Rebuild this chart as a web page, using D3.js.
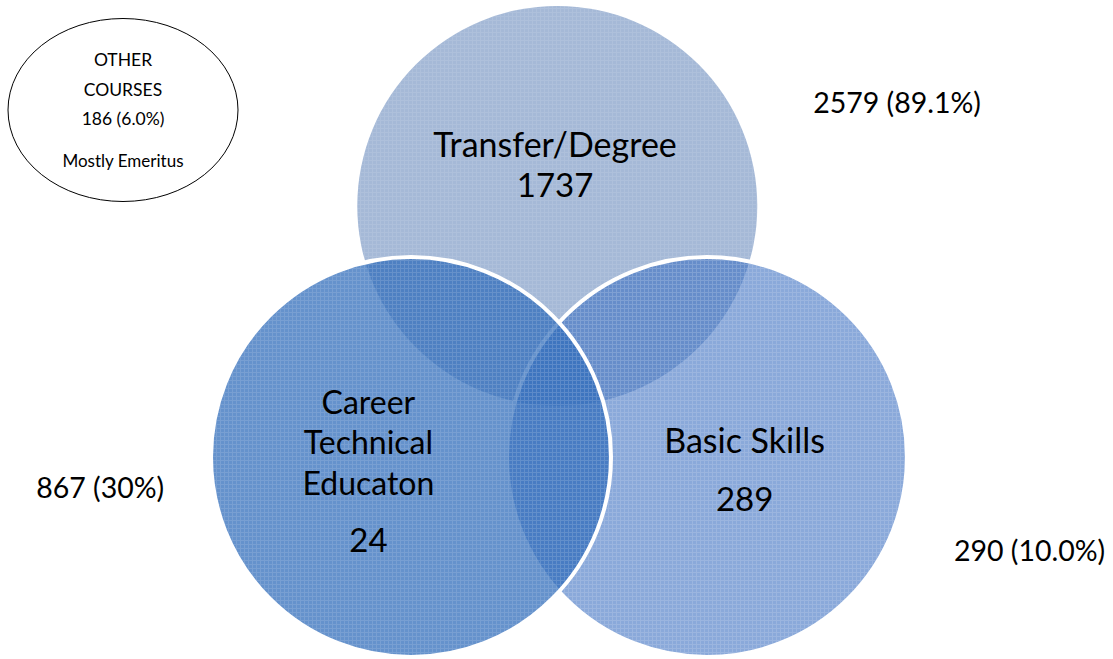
<!DOCTYPE html>
<html>
<head>
<meta charset="utf-8">
<script src="https://cdn.jsdelivr.net/npm/d3@7"></script>
<style>
  body { margin: 0; background: #fff; }
  svg { display: block; font-family: Lato, "Open Sans", sans-serif; }
</style>
</head>
<body>
<svg id="venn" width="1113" height="659"></svg>
<script>
// data
const setNames   = ['Transfer/Degree', 'Basic Skills', 'Career Technical Educaton'];
const setLines   = [['Transfer/Degree'], ['Basic Skills'], ['Career', 'Technical', 'Educaton']];
const setCounts  = [1737, 289, 24];
const totals     = ['2579 (89.1%)', '290 (10.0%)', '867 (30%)'];
const otherLines = ['OTHER', 'COURSES', '186 (6.0%)'];
const otherNote  = 'Mostly Emeritus';

const svg = d3.select('#venn');

// small grid texture like the office fill
const defs = svg.append('defs');
const pat = defs.append('pattern')
  .attr('id', 'grid')
  .attr('width', 4).attr('height', 4)
  .attr('patternUnits', 'userSpaceOnUse');
pat.append('rect').attr('x', 0).attr('y', 0).attr('width', 4).attr('height', 1).attr('fill', '#fff');
pat.append('rect').attr('x', 0).attr('y', 0).attr('width', 1).attr('height', 4).attr('fill', '#fff');

// layout in unit space: three equal circles on a triangle
const sx = d3.scaleLinear().domain([0, 1]).range([0, 1113]);
const sy = d3.scaleLinear().domain([0, 1]).range([0, 659]);

const layout = [
  {cx: 0.5007, cy: 0.3125, fill: 'rgb(165,185,215)', op: 1,    tex: 0.10, lab: [0.4987, 0.238], num: 0.299, tot: [0.806, 0.172]},
  {cx: 0.6352, cy: 0.6935, fill: 'rgb(60,112,193)',  op: 0.6,  tex: 0.14, lab: [0.669, 0.687], num: 0.776, tot: [0.925, 0.852]},
  {cx: 0.3693, cy: 0.6935, fill: 'rgb(50,110,187)',  op: 0.75, tex: 0.12, lab: [0.331, 0.628], num: 0.838, tot: [0.09, 0.755]}
];
const R = 200;

// circles: top first, then right, then left on top
setNames.forEach((n, i) => {
  const L = layout[i];
  svg.append('circle')
    .attr('cx', sx(L.cx)).attr('cy', sy(L.cy)).attr('r', R)
    .attr('fill', L.fill)
    .attr('fill-opacity', L.op);
  svg.append('circle')
    .attr('cx', sx(L.cx)).attr('cy', sy(L.cy)).attr('r', R)
    .attr('fill', 'url(#grid)')
    .attr('fill-opacity', L.tex)
    .attr('stroke', '#fff')
    .attr('stroke-width', i == 0 ? 0 : 4);
});

// set labels
setLines.forEach((lines, i) => {
  const L = layout[i];
  const t = svg.append('text')
    .attr('text-anchor', 'middle')
    .attr('font-size', i == 2 ? 32 : 34)
    .attr('fill', '#000');
  lines.forEach((s, k) => {
    t.append('tspan')
      .attr('x', sx(L.lab[0]))
      .attr('y', sy(L.lab[1]) + k * 40.5)
      .text(s);
  });
  svg.append('text')
    .attr('text-anchor', 'middle')
    .attr('font-size', 33)
    .attr('x', sx(L.lab[0]))
    .attr('y', sy(L.num))
    .text(setCounts[i]);
});

// outer totals
totals.forEach((s, i) => {
  svg.append('text')
    .attr('text-anchor', 'middle')
    .attr('font-size', 28.5)
    .attr('x', sx(layout[i].tot[0]))
    .attr('y', sy(layout[i].tot[1]))
    .text(s);
});

// other courses ellipse
svg.append('ellipse')
  .attr('cx', 123).attr('cy', 110)
  .attr('rx', 115).attr('ry', 91.5)
  .attr('fill', '#fff')
  .attr('stroke', '#000')
  .attr('stroke-width', 1);

svg.append('text')
  .attr('text-anchor', 'middle')
  .attr('font-size', 17.5)
  .selectAll('tspan')
  .data(otherLines)
  .join('tspan')
  .attr('x', 123)
  .attr('y', (d, i) => 66 + i * 29.5)
  .text(d => d);

svg.append('text')
  .attr('text-anchor', 'middle')
  .attr('font-size', 17)
  .attr('x', 123).attr('y', 167)
  .text(otherNote);
</script>
</body>
</html>
